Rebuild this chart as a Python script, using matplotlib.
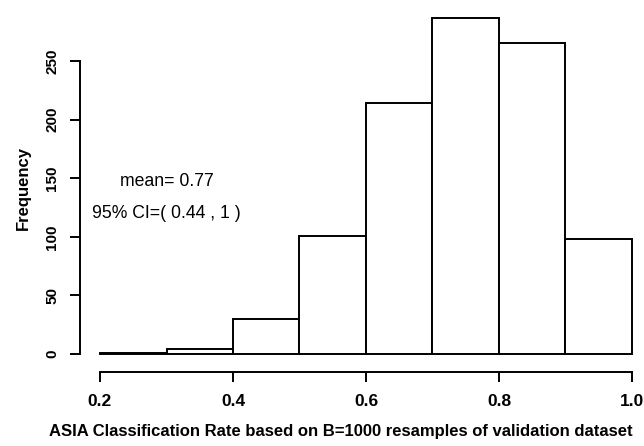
import numpy as np
import matplotlib
matplotlib.use("Agg")
import matplotlib.pyplot as plt

# Histogram bins (0.1 wide) and counts
bin_edges = [0.2, 0.3, 0.4, 0.5, 0.6, 0.7, 0.8, 0.9, 1.0]
counts = [1, 4, 30, 101, 214, 287, 265, 98]
x_ticks = [0.2, 0.4, 0.6, 0.8, 1.0]
y_ticks = [0, 50, 100, 150, 200, 250]

plt.rcParams['font.family'] = ['Liberation Sans', 'DejaVu Sans']

fig = plt.figure(figsize=(6.44, 4.46), dpi=100)
ax = fig.add_axes([80 / 644, 74 / 446, 564 / 644, 368 / 446])

edges = np.array(bin_edges)
ax.bar(edges[:-1], counts, width=np.diff(edges), align='edge',
       facecolor='white', edgecolor='black', linewidth=1.4)

ax.set_xlim(0.2 - 20 / 665, 1.0 + 12 / 665)
ax.set_ylim(-18 / 1.172, 350 / 1.172)

for side in ['top', 'right']:
    ax.spines[side].set_visible(False)
ax.spines['bottom'].set_bounds(0.2, 1.0)
ax.spines['left'].set_bounds(0, 250)
ax.spines['bottom'].set_linewidth(1.4)
ax.spines['left'].set_linewidth(1.4)

ax.set_xticks(x_ticks)
ax.set_xticklabels(['0.2', '0.4', '0.6', '0.8', '1.0'])
ax.set_yticks(y_ticks)
ax.set_yticklabels([str(v) for v in y_ticks], rotation=90, va='center')
ax.tick_params(axis='both', length=7, width=1.4, pad=9)
ax.tick_params(axis='x', labelsize=12.5)
ax.tick_params(axis='y', labelsize=11, pad=8)
for lab in ax.get_xticklabels() + ax.get_yticklabels():
    lab.set_fontweight('bold')

ax.set_xlabel('ASIA Classification Rate based on B=1000 resamples of validation dataset',
              fontsize=12, fontweight='bold')
ax.xaxis.set_label_coords(0.463, -0.141)
ax.set_ylabel('Frequency', fontsize=12, fontweight='bold', labelpad=10)

ax.text(0.3, 147, 'mean= 0.77', ha='center', va='center', fontsize=12.7)
ax.text(0.3, 120, '95% CI=( 0.44 , 1 )', ha='center', va='center', fontsize=12.7)

fig.savefig('out.png', dpi=100)
